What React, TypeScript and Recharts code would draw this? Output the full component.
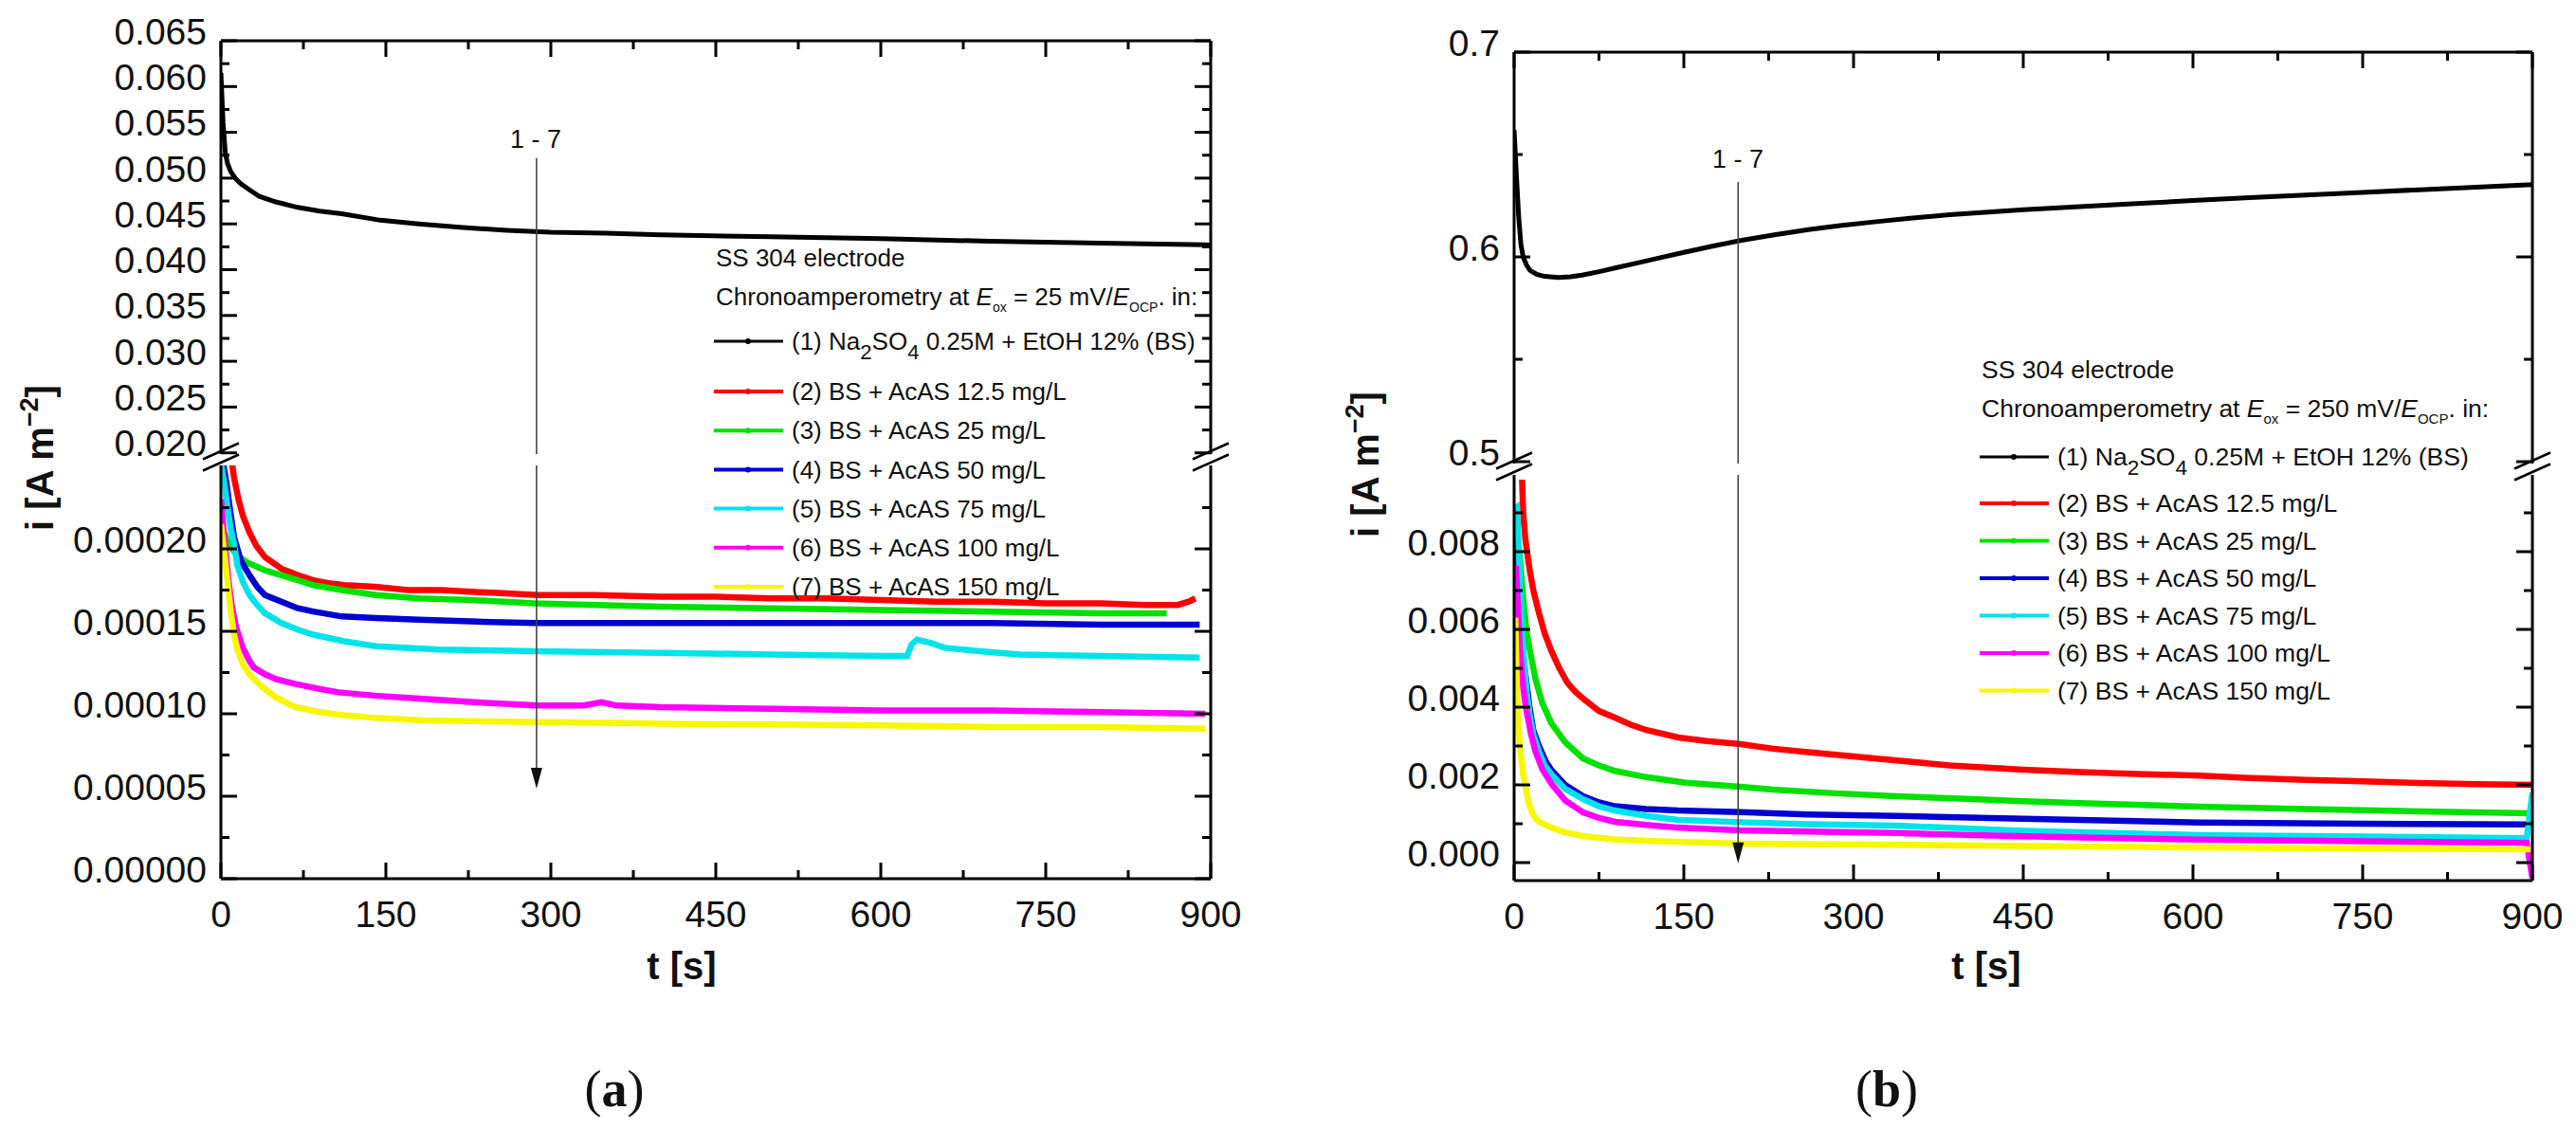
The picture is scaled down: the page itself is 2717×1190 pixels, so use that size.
import React from "react";
import { LineChart, Line, XAxis, YAxis, ReferenceLine } from "recharts";

const FIG_W = 2717;
const FIG_H = 1190;
const FONT = "'Liberation Sans', Arial, Helvetica, sans-serif";
const SERIF = "'Liberation Serif', 'Times New Roman', serif";
const AXIS = { stroke: "#000", strokeWidth: 3 };

// time axis, shared by both panels
const T_MAJOR = [0, 150, 300, 450, 600, 750, 900];
const T_MINOR = [75, 225, 375, 525, 675, 825];

// ---- panel (a): Eox = 25 mV ----
const A_TOP_MAJOR = [0.02, 0.025, 0.03, 0.035, 0.04, 0.045, 0.05, 0.055, 0.06, 0.065];
const A_TOP_MINOR = [0.0225, 0.0275, 0.0325, 0.0375, 0.0425, 0.0475, 0.0525, 0.0575, 0.0625];
const A_BOT_MAJOR = [0, 0.00005, 0.0001, 0.00015, 0.0002];
const A_BOT_MINOR = [0.000025, 0.000075, 0.000125, 0.000175, 0.000225];

const aBlack: [number, number][] = [
  [0, 0.0615], [2, 0.056], [4, 0.0528], [6, 0.0516], [9, 0.0507], [13, 0.05], [18, 0.0494],
  [25, 0.0488], [35, 0.048], [50, 0.0474], [70, 0.0468], [90, 0.0464], [110, 0.0461],
  [145, 0.0454], [180, 0.045], [220, 0.0446], [260, 0.0443], [300, 0.0441], [350, 0.044],
  [400, 0.0438], [500, 0.0436], [600, 0.0434], [700, 0.0431], [800, 0.0429], [900, 0.0427],
];
const aRed: [number, number][] = [
  [10, 0.000252], [12, 0.000243], [16, 0.00023], [20, 0.00022], [26, 0.00021], [32, 0.000202],
  [40, 0.000195], [55, 0.000188], [70, 0.000184], [84, 0.000181], [100, 0.000179], [112, 0.000178],
  [140, 0.000177], [170, 0.000175], [200, 0.000175], [227, 0.000174], [260, 0.000173],
  [288, 0.000172], [340, 0.000172], [400, 0.000171], [450, 0.000171], [500, 0.00017],
  [550, 0.00017], [600, 0.000169], [650, 0.000168], [700, 0.000168], [750, 0.000167],
  [800, 0.000167], [840, 0.000166], [870, 0.000166], [880, 0.000168], [886, 0.00017],
];
const aGreen: [number, number][] = [
  [0, 0.000215], [3, 0.00021], [6, 0.000205], [10, 0.0002], [15, 0.000196], [23, 0.000192],
  [30, 0.00019], [40, 0.000187], [55, 0.000184], [70, 0.000181], [84, 0.000178], [110, 0.000175],
  [141, 0.000172], [180, 0.00017], [227, 0.000169], [285, 0.000167], [342, 0.000166],
  [400, 0.000165], [500, 0.000164], [600, 0.000163], [700, 0.000162], [800, 0.000161], [860, 0.000161],
];
const aBlue: [number, number][] = [
  [2, 0.000252], [5, 0.00024], [8, 0.000225], [12, 0.000207], [18, 0.000193], [26, 0.000184],
  [33, 0.000177], [40, 0.000172], [55, 0.000168], [70, 0.000164], [84, 0.000162], [110, 0.000159],
  [141, 0.000158], [180, 0.000157], [227, 0.000156], [285, 0.000155], [342, 0.000155],
  [400, 0.000155], [500, 0.000155], [600, 0.000155], [700, 0.000155], [800, 0.000154], [890, 0.000154],
];
const aCyan: [number, number][] = [
  [0, 0.000252], [3, 0.00024], [6, 0.000225], [9, 0.000212], [12, 0.000203], [15, 0.00019],
  [20, 0.00018], [26, 0.000172], [33, 0.000166], [40, 0.000161], [55, 0.000155], [70, 0.000151],
  [84, 0.000148], [112, 0.000144], [141, 0.000141], [198, 0.000139], [285, 0.000138],
  [400, 0.000137], [500, 0.000136], [600, 0.000135], [624, 0.000135], [628, 0.000142],
  [633, 0.000145], [645, 0.000143], [658, 0.00014], [690, 0.000138], [726, 0.000136],
  [800, 0.000135], [890, 0.000134],
];
const aMagenta: [number, number][] = [
  [0, 0.00023], [2, 0.000215], [4, 0.0002], [7, 0.00018], [10, 0.000165], [14, 0.000152],
  [20, 0.00014], [26, 0.000132], [30, 0.000128], [40, 0.000124], [50, 0.000121], [68, 0.000118],
  [90, 0.000115], [107, 0.000113], [140, 0.000111], [184, 0.000109], [230, 0.000107],
  [288, 0.000105], [330, 0.000105], [346, 0.000107], [360, 0.000105], [400, 0.000104],
  [500, 0.000103], [600, 0.000102], [700, 0.000102], [800, 0.000101], [895, 0.0001],
];
const aYellow: [number, number][] = [
  [0, 0.000215], [3, 0.000198], [6, 0.00018], [9, 0.000162], [12, 0.000148], [15, 0.000139],
  [20, 0.00013], [25, 0.000125], [30, 0.000121], [40, 0.000115], [50, 0.00011], [68, 0.000104],
  [90, 0.000101], [107, 0.0000995], [140, 0.0000975], [184, 0.000096], [230, 0.0000955],
  [288, 0.000095], [350, 0.0000945], [400, 0.000094], [500, 0.0000935], [600, 0.000093],
  [700, 0.000092], [800, 0.000092], [895, 0.000091],
];

// ---- panel (b): Eox = 250 mV ----
const B_TOP_MAJOR = [0.5, 0.6, 0.7];
const B_TOP_MINOR = [0.55, 0.65];
const B_BOT_MAJOR = [0, 0.002, 0.004, 0.006, 0.008];
const B_BOT_MINOR = [0.001, 0.003, 0.005, 0.007, 0.009];

const bBlack: [number, number][] = [
  [0, 0.662], [2, 0.64], [4, 0.62], [6, 0.606], [8, 0.6], [11, 0.596], [14, 0.5935], [20, 0.5915],
  [27, 0.5905], [39, 0.59], [50, 0.5903], [60, 0.5911], [75, 0.5928], [90, 0.5947], [110, 0.5972],
  [130, 0.5997], [150, 0.6022], [175, 0.6052], [200, 0.608], [230, 0.6108], [260, 0.6133],
  [288, 0.6153], [320, 0.6172], [350, 0.6189], [385, 0.6206], [450, 0.623], [500, 0.6246],
  [550, 0.6261], [600, 0.6275], [650, 0.6289], [700, 0.6302], [750, 0.6315], [800, 0.6328],
  [850, 0.634], [900, 0.6353],
];
const bRed: [number, number][] = [
  [7, 0.00985], [8, 0.009], [10, 0.0083], [13.6, 0.00756], [17, 0.007], [22, 0.00642],
  [27, 0.0059], [33, 0.00544], [40, 0.005], [47, 0.00463], [54, 0.0044], [61, 0.00422],
  [75, 0.0039], [89, 0.00373], [103, 0.00355], [117, 0.00341], [145, 0.00322], [170, 0.00313],
  [200, 0.00305], [229, 0.00293], [260, 0.00284], [300, 0.00273], [338, 0.00263], [385, 0.0025],
  [450, 0.00239], [500, 0.00233], [550, 0.00228], [606, 0.00224], [650, 0.00218], [700, 0.00213],
  [750, 0.00209], [800, 0.00205], [850, 0.00202], [900, 0.002],
];
const bGreen: [number, number][] = [
  [0, 0.0089], [2, 0.0086], [5, 0.0079], [8, 0.0068], [11, 0.00593], [15, 0.0053], [19, 0.00471],
  [25, 0.0041], [33, 0.00358], [45, 0.0031], [61, 0.00268], [75, 0.0025], [89, 0.00236],
  [117, 0.0022], [150, 0.00206], [200, 0.00195], [229, 0.00188], [280, 0.00179], [338, 0.00171],
  [400, 0.00164], [450, 0.00158], [500, 0.00153], [606, 0.00144], [700, 0.00138], [800, 0.00132],
  [900, 0.00127],
];
const bBlue: [number, number][] = [
  [0, 0.0086], [2, 0.008], [4, 0.007], [6, 0.006], [8, 0.0053], [11, 0.0046], [13.6, 0.004],
  [17, 0.0034], [22, 0.003], [28, 0.0026], [33, 0.00238], [45, 0.002], [61, 0.00171],
  [75, 0.00155], [89, 0.00145], [117, 0.00138], [145, 0.00134], [200, 0.0013], [260, 0.00124],
  [338, 0.0012], [450, 0.00113], [606, 0.00103], [750, 0.001], [900, 0.00098],
];
const bCyan: [number, number][] = [
  [0, 0.0091], [2.5, 0.00915], [5, 0.0074], [8, 0.00553], [11, 0.0044], [13.6, 0.00383],
  [17, 0.0033], [22, 0.00285], [27, 0.0025], [33, 0.00227], [45, 0.0019], [61, 0.00163],
  [75, 0.00145], [89, 0.00134], [117, 0.0012], [145, 0.0011], [200, 0.00104], [260, 0.00099],
  [338, 0.00095], [450, 0.00082], [606, 0.00071], [750, 0.00067], [895, 0.00063], [900, 0.0018],
];
const bMagenta: [number, number][] = [
  [0, 0.0072], [1.5, 0.00763], [3, 0.0068], [5, 0.0055], [8, 0.0045], [11, 0.0039], [15, 0.0033],
  [19, 0.00285], [25, 0.0024], [33, 0.00203], [45, 0.0016], [61, 0.00129], [75, 0.00115],
  [89, 0.00105], [117, 0.00097], [145, 0.0009], [200, 0.00083], [260, 0.0008], [338, 0.00076],
  [450, 0.00068], [606, 0.00059], [750, 0.00055], [895, 0.00051], [900, -0.0004],
];
const bYellow: [number, number][] = [
  [0, 0.0058], [1, 0.0063], [3, 0.0039], [5, 0.003], [8, 0.00227], [11, 0.0018], [13.6, 0.00146],
  [17, 0.00122], [22, 0.00105], [33, 0.0009], [45, 0.00078], [61, 0.00068], [89, 0.0006],
  [117, 0.00056], [200, 0.00049], [338, 0.00046], [450, 0.00043], [606, 0.00039], [750, 0.00036],
  [900, 0.00034],
];

const COLORS = {
  black: "#000000",
  red: "#ff0000",
  green: "#00e100",
  blue: "#0000d0",
  cyan: "#00e3ea",
  magenta: "#ff00ff",
  yellow: "#f7f700",
};

const LEGEND_LABELS = [
  "(2) BS + AcAS 12.5 mg/L",
  "(3) BS + AcAS 25 mg/L",
  "(4) BS + AcAS 50 mg/L",
  "(5) BS + AcAS 75 mg/L",
  "(6) BS + AcAS 100 mg/L",
  "(7) BS + AcAS 150 mg/L",
];
const LEGEND_COLORS = [COLORS.red, COLORS.green, COLORS.blue, COLORS.cyan, COLORS.magenta, COLORS.yellow];

type Pts = [number, number][];
type Series = { key: string; color: string; width: number; points: Pts };

function buildTable(series: Series[]) {
  const ts = Array.from(new Set(series.flatMap((s) => s.points.map((p) => p[0])))).sort((a, b) => a - b);
  return ts.map((t) => {
    const row: Record<string, number | null> = { t };
    series.forEach((s) => {
      const hit = s.points.find((p) => p[0] === t);
      row[s.key] = hit ? hit[1] : null;
    });
    return row;
  });
}

const isIn = (v: number, list: number[]) => list.some((m) => Math.abs(m - v) < 1e-12);

function XTick(props: any) {
  const { x, y, payload, side } = props;
  const major = isIn(payload.value, T_MAJOR);
  const len = major ? 17 : 9;
  const dir = side === "top" ? 1 : -1;
  return (
    <g>
      <line x1={x} x2={x} y1={y} y2={y + dir * len} stroke="#000" strokeWidth={3} />
      {side === "bottom" && major && (
        <text x={x} y={y + 51} textAnchor="middle" fontSize={39} fontFamily={FONT} fill="#111">
          {payload.value}
        </text>
      )}
    </g>
  );
}

function YTick(props: any) {
  const { x, y, payload, side, majors, fmt } = props;
  const major = isIn(payload.value, majors);
  const len = major ? 17 : 9;
  const dir = side === "left" ? 1 : -1;
  return (
    <g>
      <line x1={x} x2={x + dir * len} y1={y} y2={y} stroke="#000" strokeWidth={3} />
      {side === "left" && major && (
        <text x={x - 15} y={y - 10} dy="0.35em" textAnchor="end" fontSize={39} fontFamily={FONT} fill="#111">
          {fmt(payload.value)}
        </text>
      )}
    </g>
  );
}

function ArrowShape(props: any) {
  const { x1, y1, x2, y2, head } = props;
  return (
    <g>
      <line x1={x1} y1={y1} x2={x2} y2={head ? y2 - 16 : y2} stroke="#444" strokeWidth={1.6} />
      {head && <path d={`M${x2 - 6},${y2 - 22} L${x2 + 6},${y2 - 22} L${x2},${y2} Z`} fill="#111" />}
    </g>
  );
}

type SectionProps = {
  box: { left: number; right: number; top: number; bottom: number };
  domain: [number, number];
  yMajor: number[];
  yMinor: number[];
  fmt: (v: number) => string;
  series: Series[];
  axis: "top" | "bottom";
  arrow: { x: number; y1: number; y2: number; head: boolean };
};

// every axis is 1px thick, so the margins give up that pixel
function Section({ box, domain, yMajor, yMinor, fmt, series, axis, arrow }: SectionProps) {
  const data = buildTable(series);
  const yTicks = [...yMajor, ...yMinor].sort((a, b) => a - b);
  const xTicks = [...T_MAJOR, ...T_MINOR].sort((a, b) => a - b);
  const margin = {
    top: axis === "top" ? box.top - 1 : box.top,
    bottom: axis === "bottom" ? FIG_H - box.bottom - 1 : FIG_H - box.bottom,
    left: box.left - 1,
    right: FIG_W - box.right - 1,
  };
  return (
    <div style={{ position: "absolute", left: 0, top: 0 }}>
      <LineChart width={FIG_W} height={FIG_H} data={data} margin={margin}>
        <XAxis
          dataKey="t"
          type="number"
          domain={[0, 900]}
          ticks={xTicks}
          interval={0}
          orientation={axis}
          height={1}
          tickSize={0}
          tickMargin={0}
          tickLine={false}
          axisLine={AXIS}
          allowDataOverflow
          tick={(p: any) => <XTick {...p} side={axis} />}
        />
        <YAxis
          yAxisId="l"
          type="number"
          domain={domain}
          ticks={yTicks}
          interval={0}
          width={1}
          tickSize={0}
          tickMargin={0}
          tickLine={false}
          axisLine={AXIS}
          allowDataOverflow
          tick={(p: any) => <YTick {...p} side="left" majors={yMajor} fmt={fmt} />}
        />
        <YAxis
          yAxisId="r"
          orientation="right"
          type="number"
          domain={domain}
          ticks={yTicks}
          interval={0}
          width={1}
          tickSize={0}
          tickMargin={0}
          tickLine={false}
          axisLine={AXIS}
          allowDataOverflow
          tick={(p: any) => <YTick {...p} side="right" majors={yMajor} fmt={fmt} />}
        />
        {series.map((s) => (
          <Line
            key={s.key}
            yAxisId="l"
            type="linear"
            dataKey={s.key}
            stroke={s.color}
            strokeWidth={s.width}
            dot={false}
            connectNulls
            isAnimationActive={false}
          />
        ))}
        <ReferenceLine
          yAxisId="l"
          segment={[{ x: arrow.x, y: arrow.y1 }, { x: arrow.x, y: arrow.y2 }]}
          ifOverflow="visible"
          shape={(p: any) => <ArrowShape {...p} head={arrow.head} />}
        />
      </LineChart>
    </div>
  );
}

function BreakMark({ x, y }: { x: number; y: number }) {
  return (
    <g stroke="#000" strokeWidth={2.5}>
      <line x1={x - 19} y1={y + 8.5} x2={x + 19} y2={y - 8.5} />
      <line x1={x - 19} y1={y + 20.5} x2={x + 19} y2={y + 3.5} />
    </g>
  );
}

function LegendBlock({ x, y0, gap, size, potential }: { x: number; y0: number; gap: number[]; size: number; potential: string }) {
  const base = size * 0.35;
  const sub = Math.round(size * 0.55);
  const rows = [y0 + gap[2], ...LEGEND_LABELS.map((_, i) => y0 + gap[3] + i * gap[4])];
  return (
    <g fontFamily={FONT} fill="#111" fontSize={size}>
      <text x={x + 2} y={y0 + base}>SS 304 electrode</text>
      <text x={x + 2} y={y0 + gap[1] + base}>
        Chronoamperometry at <tspan fontStyle="italic">E</tspan>
        <tspan fontSize={sub} dy={7}>ox</tspan>
        <tspan dy={-7}>{` = ${potential} mV/`}</tspan>
        <tspan fontStyle="italic">E</tspan>
        <tspan fontSize={sub} dy={7}>OCP</tspan>
        <tspan dy={-7}>. in:</tspan>
      </text>
      <line x1={x} x2={x + 73} y1={rows[0]} y2={rows[0]} stroke={COLORS.black} strokeWidth={3} />
      <circle cx={x + 36} cy={rows[0]} r={3} fill={COLORS.black} />
      <text x={x + 82} y={rows[0] + base}>
        (1) Na<tspan fontSize={size * 0.85} dy={10}>2</tspan>
        <tspan dy={-10}>SO</tspan>
        <tspan fontSize={size * 0.85} dy={10}>4</tspan>
        <tspan dy={-10}> 0.25M + EtOH 12% (BS)</tspan>
      </text>
      {LEGEND_LABELS.map((label, i) => (
        <g key={label}>
          <line x1={x} x2={x + 73} y1={rows[i + 1]} y2={rows[i + 1]} stroke={LEGEND_COLORS[i]} strokeWidth={4} />
          <circle cx={x + 36} cy={rows[i + 1]} r={3} fill={LEGEND_COLORS[i]} />
          <text x={x + 82} y={rows[i + 1] + base}>{label}</text>
        </g>
      ))}
    </g>
  );
}

function YTitle({ x, y }: { x: number; y: number }) {
  return (
    <text
      transform={`rotate(-90 ${x} ${y})`}
      x={x}
      y={y + 14}
      textAnchor="middle"
      fontSize={40}
      fontWeight="bold"
      fontFamily={FONT}
      fill="#111"
    >
      i [A m<tspan fontSize={27} dy={-16}>−2</tspan>
      <tspan dy={16}>]</tspan>
    </text>
  );
}

const fmt3 = (v: number) => v.toFixed(3);
const fmt5 = (v: number) => v.toFixed(5);
const fmt1 = (v: number) => v.toFixed(1);

export default function App() {
  const aTopSeries: Series[] = [{ key: "s1", color: COLORS.black, width: 5, points: aBlack }];
  const aBotSeries: Series[] = [
    { key: "s2", color: COLORS.red, width: 6.5, points: aRed },
    { key: "s3", color: COLORS.green, width: 6.5, points: aGreen },
    { key: "s4", color: COLORS.blue, width: 6.5, points: aBlue },
    { key: "s5", color: COLORS.cyan, width: 6.5, points: aCyan },
    { key: "s6", color: COLORS.magenta, width: 6.5, points: aMagenta },
    { key: "s7", color: COLORS.yellow, width: 6.5, points: aYellow },
  ];
  const bTopSeries: Series[] = [{ key: "s1", color: COLORS.black, width: 5, points: bBlack }];
  const bBotSeries: Series[] = [
    { key: "s2", color: COLORS.red, width: 6.5, points: bRed },
    { key: "s3", color: COLORS.green, width: 6.5, points: bGreen },
    { key: "s4", color: COLORS.blue, width: 6.5, points: bBlue },
    { key: "s5", color: COLORS.cyan, width: 6.5, points: bCyan },
    { key: "s6", color: COLORS.magenta, width: 6.5, points: bMagenta },
    { key: "s7", color: COLORS.yellow, width: 6.5, points: bYellow },
  ];

  return (
    <div style={{ position: "absolute", left: 0, top: 0, width: FIG_W, height: FIG_H, background: "#fff" }}>
      <Section
        box={{ left: 233, right: 1277, top: 43, bottom: 479 }}
        domain={[0.01987, 0.065]}
        yMajor={A_TOP_MAJOR}
        yMinor={A_TOP_MINOR}
        fmt={fmt3}
        series={aTopSeries}
        axis="top"
        arrow={{ x: 287, y1: 0.0522, y2: 0.01987, head: false }}
      />
      <Section
        box={{ left: 233, right: 1277, top: 491, bottom: 927 }}
        domain={[0, 0.0002506]}
        yMajor={A_BOT_MAJOR}
        yMinor={A_BOT_MINOR}
        fmt={fmt5}
        series={aBotSeries}
        axis="bottom"
        arrow={{ x: 287, y1: 0.0002506, y2: 0.0000546, head: true }}
      />
      <Section
        box={{ left: 1597, right: 2671, top: 55, bottom: 489 }}
        domain={[0.4991, 0.7]}
        yMajor={B_TOP_MAJOR}
        yMinor={B_TOP_MINOR}
        fmt={fmt1}
        series={bTopSeries}
        axis="top"
        arrow={{ x: 198, y1: 0.6366, y2: 0.4991, head: false }}
      />
      <Section
        box={{ left: 1597, right: 2671, top: 501, bottom: 929 }}
        domain={[-0.000463, 0.009976]}
        yMajor={B_BOT_MAJOR}
        yMinor={B_BOT_MINOR}
        fmt={fmt3}
        series={bBotSeries}
        axis="bottom"
        arrow={{ x: 198, y1: 0.009976, y2: -0.00002, head: true }}
      />

      <svg
        width={FIG_W}
        height={FIG_H}
        style={{ position: "absolute", left: 0, top: 0, pointerEvents: "none" }}
      >
        <BreakMark x={233} y={476} />
        <BreakMark x={1277} y={476} />
        <BreakMark x={1597} y={486} />
        <BreakMark x={2671} y={486} />

        <YTitle x={42} y={483} />
        <YTitle x={1440} y={490} />

        <text x={719} y={1033} textAnchor="middle" fontSize={40} fontWeight="bold" fontFamily={FONT} fill="#111">
          t [s]
        </text>
        <text x={2095} y={1033} textAnchor="middle" fontSize={40} fontWeight="bold" fontFamily={FONT} fill="#111">
          t [s]
        </text>

        <text x={565} y={156} textAnchor="middle" fontSize={27} fontFamily={FONT} fill="#111">1 - 7</text>
        <text x={1833} y={177} textAnchor="middle" fontSize={27} fontFamily={FONT} fill="#111">1 - 7</text>

        <LegendBlock x={753} y0={272} gap={[0, 41, 88, 141, 41.2]} size={26} potential="25" />
        <LegendBlock x={2088} y0={390} gap={[0, 41, 92, 141, 39.5]} size={26.5} potential="250" />

        <text x={648} y={1167} textAnchor="middle" fontSize={54} fontFamily={SERIF} fill="#111">
          (<tspan fontWeight="bold">a</tspan>)
        </text>
        <text x={1990} y={1167} textAnchor="middle" fontSize={54} fontFamily={SERIF} fill="#111">
          (<tspan fontWeight="bold">b</tspan>)
        </text>
      </svg>
    </div>
  );
}
